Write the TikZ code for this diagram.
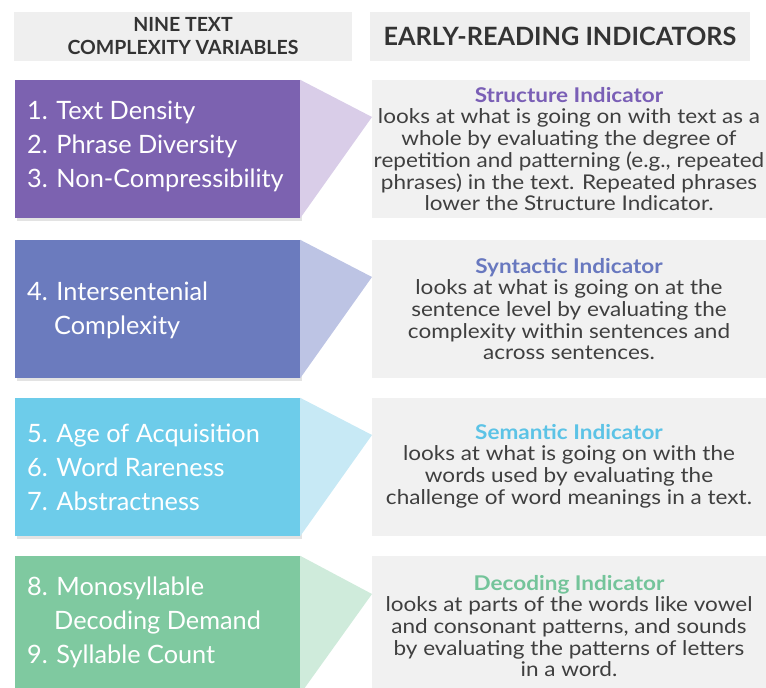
\documentclass[tikz,border=0pt]{standalone}
\usepackage{fontspec}
\setmainfont{Lato}
\newfontfamily\headfont{Lato}
\newfontfamily\bodyfont[FakeStretch=1.11]{Lato}
\usetikzlibrary{shadows}

\definecolor{hdgray}{HTML}{EFEFEF}
\definecolor{indgray}{HTML}{F1F1F1}
\definecolor{txtgray}{HTML}{3F3F3F}
\definecolor{headgray}{HTML}{333333}
\definecolor{purplebox}{HTML}{7C62B0}
\definecolor{purplewedge}{HTML}{D9CDE8}
\definecolor{bluebox}{HTML}{6B7BBE}
\definecolor{bluewedge}{HTML}{BDC4E4}
\definecolor{cyanbox}{HTML}{6DCCEA}
\definecolor{cyanwedge}{HTML}{C7E9F5}
\definecolor{greenbox}{HTML}{7FC9A0}
\definecolor{greenwedge}{HTML}{CFEBDB}
\definecolor{purpletitle}{HTML}{7A5FB6}
\definecolor{bluetitle}{HTML}{6878BF}
\definecolor{cyantitle}{HTML}{5CC3E6}
\definecolor{greentitle}{HTML}{74C49A}

\newcommand{\subline}{\hspace*{27pt}}

\begin{document}
\begin{tikzpicture}[x=1pt,y=-1pt,
  headbox/.style={rectangle, fill=hdgray, inner sep=0pt, minimum height=49pt,
    text=headgray, align=center},
  varbox/.style={rectangle, inner sep=0pt, minimum width=285pt, minimum height=138pt,
    drop shadow={opacity=0.22, shadow xshift=2pt, shadow yshift=-3pt}},
  vartext/.style={anchor=west, inner sep=0pt, text=white, align=left,
    font=\fontsize{25.3}{34}\selectfont},
  indbox/.style={rectangle, fill=indgray, inner sep=0pt, minimum width=394pt, minimum height=138pt},
  indtext/.style={inner sep=0pt, text=txtgray, align=center,
    font=\bodyfont\fontsize{20.3}{21.7}\selectfont}]

\useasboundingbox (0,0) rectangle (766,688);

% headers
\node (h1) at (183,36.5) [headbox, minimum width=338pt, font=\headfont\bfseries\fontsize{19.5}{23}\selectfont]{NINE TEXT\\COMPLEXITY VARIABLES};
\node (h2) at (560,36.5) [headbox, minimum width=380pt, font=\headfont\bfseries\fontsize{25.2}{28}\selectfont]{EARLY-READING INDICATORS};

% indicator boxes
\node (i1) at (569,149) [indbox]{};
\node (i2) at (569,309) [indbox]{};
\node (i3) at (569,467) [indbox]{};
\node (i4) at (569,625) [indbox]{};

% wedge tips
\coordinate (t1) at (372,117);
\coordinate (t2) at (372,277);
\coordinate (t3) at (372,435);
\coordinate (t4) at (372,594);

% variable boxes
\node (v1) at (157.5,149) [varbox, fill=purplebox]{};
\node (v2) at (157.5,309) [varbox, fill=bluebox]{};
\node (v3) at (157.5,467) [varbox, fill=cyanbox]{};
\node (v4) at (157.5,625) [varbox, fill=greenbox]{};

\fill [purplewedge] (v1.north east) -- (t1) -- (v1.south east) -- cycle;
\fill [bluewedge] (v2.north east) -- (t2) -- (v2.south east) -- cycle;
\fill [cyanwedge] (v3.north east) -- (t3) -- (v3.south east) -- cycle;
\fill [greenwedge] (v4.north east) -- (t4) -- (v4.south east) -- cycle;

% variable lists
\node (l1) at (27,146) [vartext]{1. Text Density\\2. Phrase Diversity\\3. Non-Compressibility};
\node (l2) at (27,310) [vartext]{4. Intersentenial\\\subline Complexity};
\node (l3) at (27,467) [vartext]{5. Age of Acquisition\\6. Word Rareness\\7. Abstractness};
\node (l4) at (27,622) [vartext]{8. Monosyllable\\\subline Decoding Demand\\9. Syllable Count};

% indicator texts
\node (d1) at (i1.center) [indtext]{{\bfseries\color{purpletitle}Structure Indicator}\\looks at what is going on with text as a\\whole by evaluating the degree of\\repetition and patterning (e.g., repeated\\phrases) in the text. Repeated phrases\\lower the Structure Indicator.};
\node (d2) at (i2.center) [indtext]{{\bfseries\color{bluetitle}Syntactic Indicator}\\looks at what is going on at the\\sentence level by evaluating the\\complexity within sentences and\\across sentences.};
\node (d3) at (569,466) [indtext]{{\bfseries\color{cyantitle}Semantic Indicator}\\looks at what is going on with the\\words used by evaluating the\\challenge of word meanings in a text.};
\node (d4) at (569,626) [indtext]{{\bfseries\color{greentitle}Decoding Indicator}\\looks at parts of the words like vowel\\and consonant patterns, and sounds\\by evaluating the patterns of letters\\in a word.};

\end{tikzpicture}
\end{document}
